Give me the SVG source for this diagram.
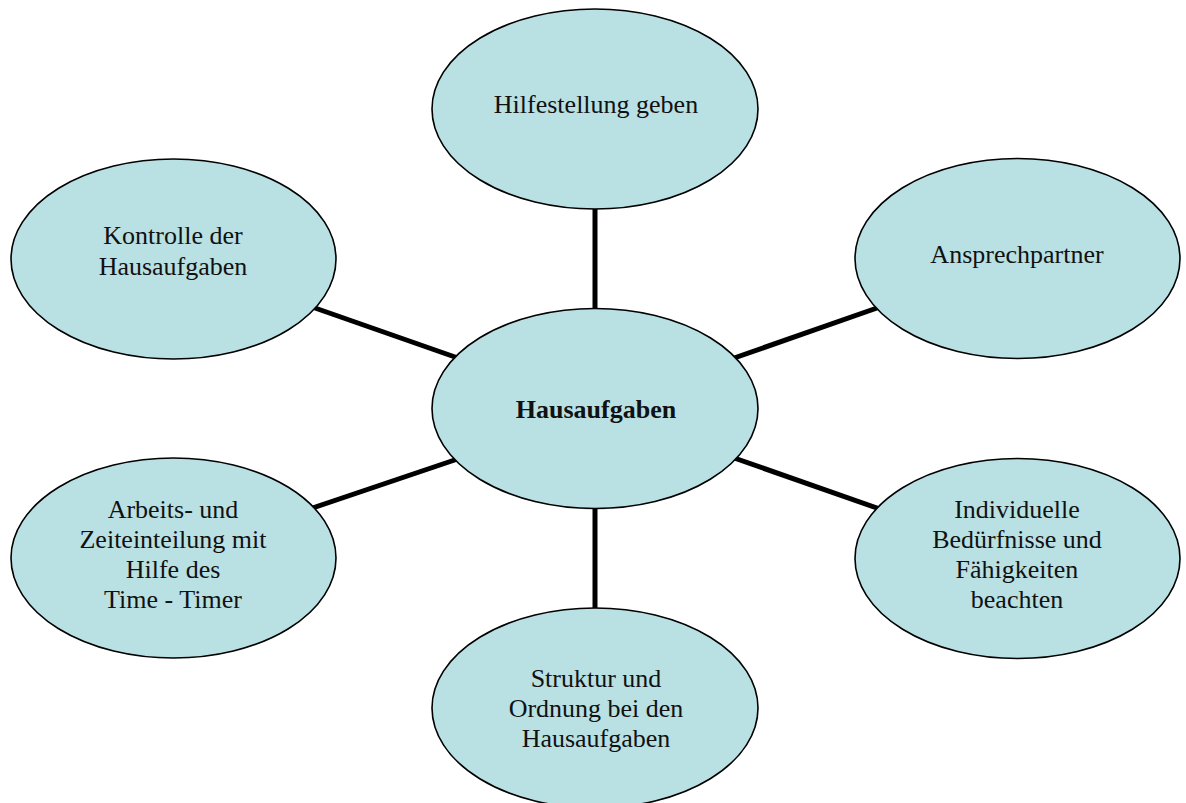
<svg xmlns="http://www.w3.org/2000/svg" width="1186" height="803" viewBox="0 0 1186 803">
<style>
.n{fill:#B9E0E3;stroke:#000;stroke-width:1.6}
.t{font-family:"Liberation Serif","Times New Roman",serif;font-size:26px;fill:#111;text-anchor:middle}
.b{font-weight:bold}
.c{stroke:#000;stroke-width:5;fill:none}
</style>
<rect width="1186" height="803" fill="#fff"/>
<g id="connectors">
<line class="c" x1="595" y1="200" x2="595" y2="320"/>
<line class="c" x1="595" y1="500" x2="595" y2="620"/>
<line class="c" x1="305" y1="304.5" x2="465" y2="360.5"/>
<line class="c" x1="887" y1="304.5" x2="727" y2="360.5"/>
<line class="c" x1="305" y1="510.5" x2="465" y2="456.5"/>
<line class="c" x1="887" y1="511.5" x2="727" y2="455.5"/>
</g>
<g id="node-top">
<ellipse class="n" cx="595" cy="109" rx="163" ry="100"/>
<text class="t" x="596" y="113">Hilfestellung geben</text>
</g>
<g id="node-center">
<ellipse class="n" cx="595" cy="408.5" rx="163" ry="100"/>
<text class="t b" x="596" y="418">Hausaufgaben</text>
</g>
<g id="node-left-upper">
<ellipse class="n" cx="173.5" cy="259" rx="162.5" ry="100"/>
<text class="t" x="173" y="244">Kontrolle der</text>
<text class="t" x="173" y="275">Hausaufgaben</text>
</g>
<g id="node-right-upper">
<ellipse class="n" cx="1017.5" cy="258.5" rx="162.5" ry="100"/>
<text class="t" x="1017" y="263">Ansprechpartner</text>
</g>
<g id="node-left-lower">
<ellipse class="n" cx="173.5" cy="558" rx="162.5" ry="100"/>
<text class="t" x="173" y="518">Arbeits- und</text>
<text class="t" x="173" y="548">Zeiteinteilung mit</text>
<text class="t" x="173" y="578">Hilfe des</text>
<text class="t" x="173" y="608">Time - Timer</text>
</g>
<g id="node-right-lower">
<ellipse class="n" cx="1017.5" cy="558.5" rx="162.5" ry="100"/>
<text class="t" x="1017" y="518">Individuelle</text>
<text class="t" x="1017" y="548">Bedürfnisse und</text>
<text class="t" x="1017" y="578">Fähigkeiten</text>
<text class="t" x="1017" y="608">beachten</text>
</g>
<g id="node-bottom">
<ellipse class="n" cx="595" cy="708" rx="163" ry="100"/>
<text class="t" x="596" y="687">Struktur und</text>
<text class="t" x="596" y="717">Ordnung bei den</text>
<text class="t" x="596" y="747">Hausaufgaben</text>
</g>
</svg>
